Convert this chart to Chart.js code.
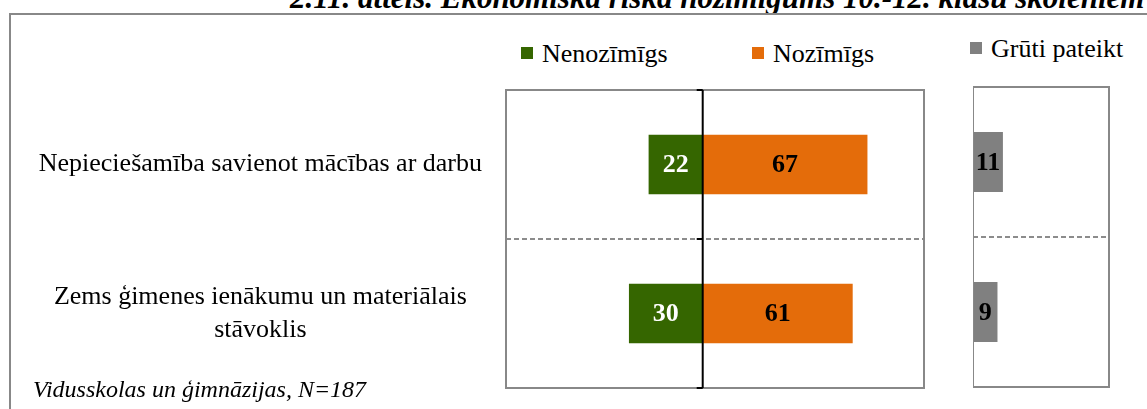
<!DOCTYPE html>
<html>
<head>
<meta charset="utf-8">
<script src="https://cdn.jsdelivr.net/npm/chart.js@4.4.1/dist/chart.umd.min.js"></script>
<style>
  body { margin: 0; background: #fff; }
  #wrap { position: relative; width: 1147px; height: 409px; overflow: hidden; font-family: "Liberation Serif", serif; }
  #frame { position: absolute; left: 9px; top: 13px; width: 1200px; height: 500px; border-left: 2px solid #888; border-top: 2px solid #888; }
  #title { position: absolute; left: 290px; top: -20px; white-space: nowrap; font: italic bold 31px "Liberation Serif", serif; }
  #note { position: absolute; left: 33px; top: 376px; font: italic 24px "Liberation Serif", serif; }
  .box { position: absolute; }
  .legend { position: absolute; top: 39px; font-size: 26px; white-space: nowrap; }
  .legend span.sw { display: inline-block; width: 12px; height: 12px; margin-right: 9px; vertical-align: 3px; }
</style>
</head>
<body>
<div id="wrap">
  <div id="title">2.11. attēls. Ekonomiskā riska nozīmīgums 10.-12. klašu skolēniem</div>
  <div id="frame"></div>
  <div class="legend" id="lg1" style="left:521px"></div>
  <div class="legend" id="lg2" style="left:752px"></div>
  <div class="legend" id="lg3" style="left:970px; top:34px"></div>
  <div class="box" style="left:9px; top:80px; width:930px; height:329px"><canvas id="main"></canvas></div>
  <div class="box" style="left:973px; top:80px; width:174px; height:329px"><canvas id="side"></canvas></div>
  <div id="note">Vidusskolas un ģimnāzijas, N=187</div>
</div>
<script>
const categories = [
    'Nepiecie\u0161am\u012bba savienot m\u0101c\u012bbas ar darbu',
    ['Zems \u0123imenes ien\u0101kumu un materi\u0101lais', 'st\u0101voklis']
];
const nenozimigs = [22, 30];
const nozimigs = [67, 61];
const gruti = [11, 9];

const seriesNames = ['Nenoz\u012bm\u012bgs', 'Noz\u012bm\u012bgs', 'Gr\u016bti pateikt'];
const colors = ['#356600', '#E46C0A', '#808080'];

// value labels in the middle of each bar
const barLabels = {
    id: 'barLabels',
    afterDatasetsDraw(chart) {
        const ctx = chart.ctx;
        ctx.save();
        ctx.font = 'bold 26px "Liberation Serif", serif';
        ctx.textAlign = 'center';
        ctx.textBaseline = 'middle';
        chart.data.datasets.forEach((ds, i) => {
            chart.getDatasetMeta(i).data.forEach((el, j) => {
                ctx.fillStyle = ds.labelColor;
                ctx.fillText(Math.abs(ds.data[j]), (el.x + el.base) / 2, el.y + 1);
            });
        });
        ctx.restore();
    }
};

// grey frame around the plot area
const plotBox = {
    id: 'plotBox',
    afterDraw(chart) {
        const a = chart.chartArea;
        const ctx = chart.ctx;
        ctx.save();
        ctx.strokeStyle = '#888';
        ctx.lineWidth = 2;
        ctx.strokeRect(a.left, a.top, a.right - a.left, a.bottom - a.top);
        ctx.restore();
    }
};

// black zero line with small ticks on the main chart
const zeroAxis = {
    id: 'zeroAxis',
    afterDraw(chart) {
        const a = chart.chartArea;
        const x0 = chart.scales.x.getPixelForValue(0);
        const ctx = chart.ctx;
        ctx.save();
        ctx.strokeStyle = '#000';
        ctx.lineWidth = 2;
        ctx.beginPath();
        ctx.moveTo(x0, a.top);
        ctx.lineTo(x0, a.bottom);
        const step = (a.bottom - a.top) / categories.length;
        for (let k = 0; k <= categories.length; k++) {
            const yy = a.top + k * step;
            ctx.moveTo(x0 - 6, yy);
            ctx.lineTo(x0, yy);
        }
        ctx.stroke();
        ctx.restore();
    }
};

function noPad(axis) {
    axis.paddingTop = 0;
    axis.paddingBottom = 0;
}

new Chart(document.getElementById('main'), {
    type: 'bar',
    data: {
        labels: categories,
        datasets: [
            { label: seriesNames[0], data: nenozimigs.map(v => -v), backgroundColor: colors[0], labelColor: '#fff' },
            { label: seriesNames[1], data: nozimigs, backgroundColor: colors[1], labelColor: '#000' }
        ]
    },
    options: {
        indexAxis: 'y',
        responsive: true,
        maintainAspectRatio: false,
        animation: false,
        barPercentage: 0.4,
        categoryPercentage: 1,
        layout: { padding: { top: 10, bottom: 21, right: 15, left: 0 } },
        plugins: { legend: { display: false }, tooltip: { enabled: false } },
        scales: {
            x: { stacked: true, display: false, min: -80, max: 90 },
            y: {
                stacked: true,
                ticks: {
                    crossAlign: 'center',
                    color: '#000',
                    padding: 24,
                    font: { family: '"Liberation Serif", serif', size: 26, lineHeight: 1.25 }
                },
                grid: { offset: true, color: '#8c8c8c', lineWidth: 2, drawTicks: false },
                border: { display: false, dash: [5, 3] },
                afterFit(axis) { axis.width = 497; noPad(axis); }
            }
        }
    },
    plugins: [barLabels, plotBox, zeroAxis]
});

new Chart(document.getElementById('side'), {
    type: 'bar',
    data: {
        labels: categories,
        datasets: [
            { label: seriesNames[2], data: gruti, backgroundColor: colors[2], labelColor: '#000' }
        ]
    },
    options: {
        indexAxis: 'y',
        responsive: true,
        maintainAspectRatio: false,
        animation: false,
        barPercentage: 0.4,
        categoryPercentage: 1,
        layout: { padding: { top: 7, bottom: 22, right: 38, left: 0 } },
        plugins: { legend: { display: false }, tooltip: { enabled: false } },
        scales: {
            x: { display: false, min: 0, max: 50 },
            y: {
                ticks: { display: false },
                grid: { offset: true, color: '#8c8c8c', lineWidth: 2, drawTicks: false },
                border: { display: false, dash: [5, 3] },
                afterFit(axis) { axis.width = 0; noPad(axis); }
            }
        }
    },
    plugins: [barLabels, plotBox]
});

// html legend items
['lg1', 'lg2', 'lg3'].forEach((id, i) => {
    document.getElementById(id).innerHTML =
        '<span class="sw" style="background:' + colors[i] + '"></span>' + seriesNames[i];
});
</script>
</body>
</html>
